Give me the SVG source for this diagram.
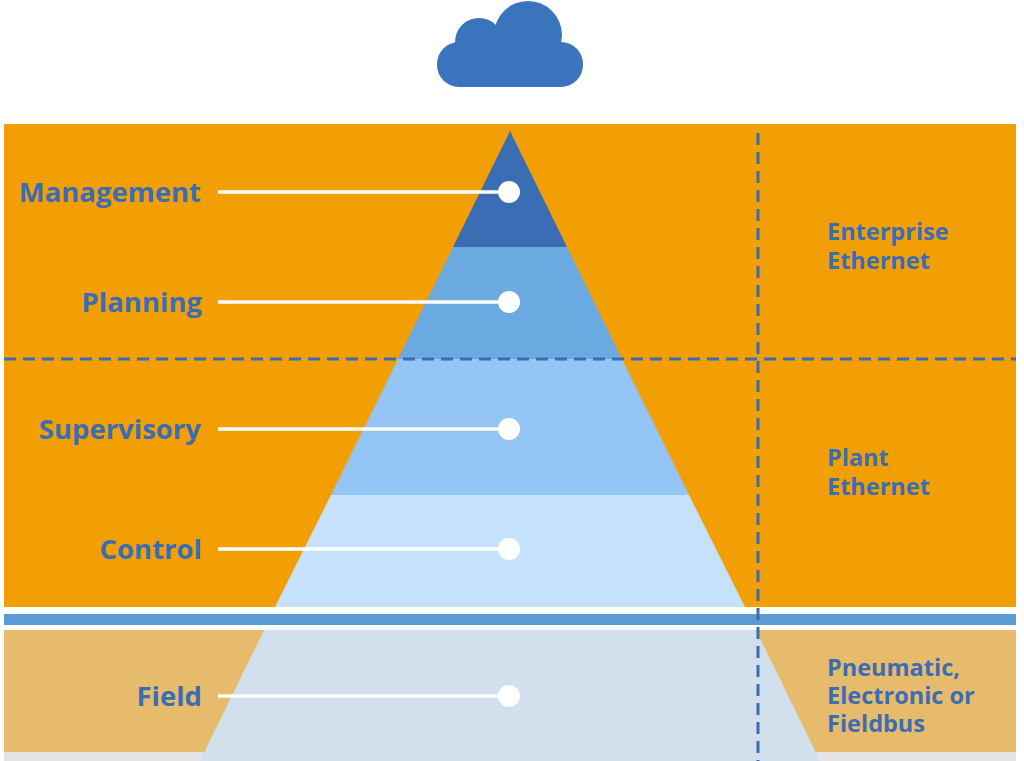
<svg xmlns="http://www.w3.org/2000/svg" width="1024" height="761" viewBox="0 0 1024 761">
<style>
.lab{font-family:"Open Sans","Liberation Sans",sans-serif;font-weight:bold;font-size:27.5px;fill:#3a6db3;text-anchor:end}
.rl{font-family:"Open Sans","Liberation Sans",sans-serif;font-weight:bold;font-size:23.5px;fill:#3a6db3}
.ln{stroke:#fff;stroke-width:3.5}
.dot{fill:#fff}
.dash{stroke:#3a6db3;stroke-width:3;stroke-dasharray:12 7;fill:none}
</style>
<rect width="1024" height="761" fill="#fff"/>
<g id="cloud" fill="#3a74bd">
<circle cx="528" cy="35" r="34"/><circle cx="479" cy="42" r="24"/>
<rect x="437" y="42" width="146" height="45" rx="22"/>
</g>
<g id="bands">
<rect x="4" y="124" width="1012" height="483" fill="#f29f05"/>
<rect x="4" y="614" width="1012" height="11" fill="#5b9bd5"/>
<rect x="4" y="630" width="1012" height="122" fill="#e6bb6c"/>
<rect x="4" y="752" width="1012" height="9" fill="#e4e4e4"/>
</g>
<g id="pyramid">
<polygon points="510,131 567,247 453,247" fill="#3a6db3"/>
<polygon points="453,247 567,247 622,359 398,359" fill="#6aaae0"/>
<polygon points="398,359 622,359 689,495 331,495" fill="#94c5f5"/>
<polygon points="331,495 689,495 745,607 275,607" fill="#c5e1fb"/>
<polygon points="264,630 756,630 820,761 200,761" fill="#d2dfec"/>
</g>
<g id="connectors">
<line class="dash" x1="4" y1="359" x2="1016" y2="359"/>
<line class="dash" x1="758" y1="133" x2="758" y2="761"/>
<line class="ln" x1="218" y1="192" x2="509" y2="192"/>
<line class="ln" x1="218" y1="302" x2="509" y2="302"/>
<line class="ln" x1="218" y1="429" x2="509" y2="429"/>
<line class="ln" x1="218" y1="549" x2="509" y2="549"/>
<line class="ln" x1="218" y1="696" x2="509" y2="696"/>
</g>
<g id="management"><circle class="dot" cx="509" cy="192" r="11"/><text class="lab" x="201" y="202">Management</text></g>
<g id="planning"><circle class="dot" cx="509" cy="302" r="11"/><text class="lab" x="202" y="312">Planning</text></g>
<g id="supervisory"><circle class="dot" cx="509" cy="429" r="11"/><text class="lab" x="201" y="439">Supervisory</text></g>
<g id="control"><circle class="dot" cx="509" cy="549" r="11"/><text class="lab" x="202" y="559">Control</text></g>
<g id="field"><circle class="dot" cx="509" cy="696" r="11"/><text class="lab" x="202" y="706">Field</text></g>
<g id="enterprise"><text class="rl" x="827" y="240">Enterprise</text><text class="rl" x="827" y="269">Ethernet</text></g>
<g id="plant"><text class="rl" x="827" y="466">Plant</text><text class="rl" x="827" y="495">Ethernet</text></g>
<g id="fieldnet"><text class="rl" x="827" y="676">Pneumatic,</text><text class="rl" x="827" y="704">Electronic or</text><text class="rl" x="827" y="732">Fieldbus</text></g>
</svg>
